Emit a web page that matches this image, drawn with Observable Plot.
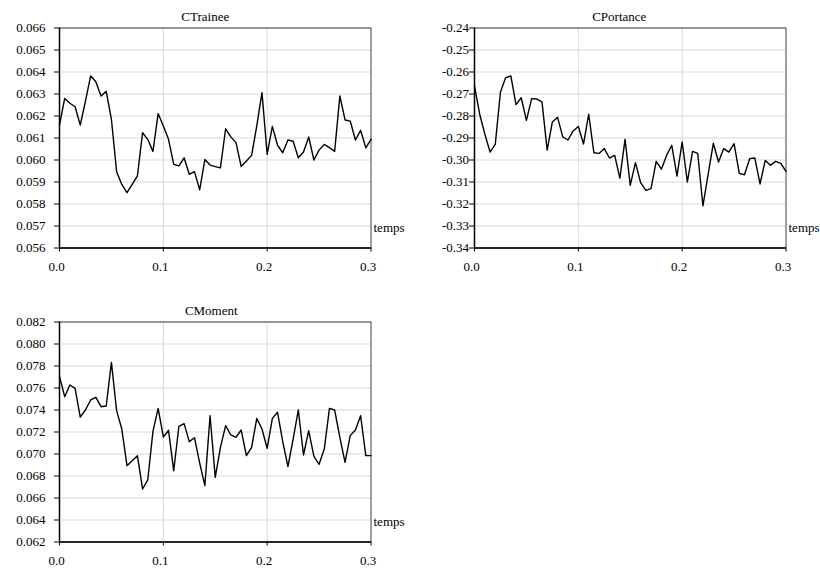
<!DOCTYPE html>
<html><head><meta charset="utf-8">
<script src="https://cdn.jsdelivr.net/npm/d3@7"></script>
<script src="https://cdn.jsdelivr.net/npm/@observablehq/plot@0.6"></script>
<style>
body{margin:0;background:#fff;}
#c{position:relative;width:820px;height:568px;overflow:hidden;}
.p{position:absolute;}
</style>
</head><body><div id="c"></div>
<script>
const temps = [0,0.005,0.01,0.015,0.02,0.025,0.03,0.035,0.04,0.045,0.05,0.055,0.06,0.065,0.07,0.075,0.08,0.085,0.09,0.095,
0.1,0.105,0.11,0.115,0.12,0.125,0.13,0.135,0.14,0.145,0.15,0.155,0.16,0.165,0.17,0.175,0.18,0.185,0.19,0.195,
0.2,0.205,0.21,0.215,0.22,0.225,0.23,0.235,0.24,0.245,0.25,0.255,0.26,0.265,0.27,0.275,0.28,0.285,0.29,0.295,0.3];

const cTrainee = [0.06158,0.06280,0.06258,0.06242,0.06159,0.06268,0.06382,0.06356,0.06291,0.06312,0.06185,0.05947,0.05889,0.05852,0.05889,0.05927,0.06124,0.06094,0.06039,0.06211,
0.06155,0.06094,0.05980,0.05973,0.06010,0.05935,0.05947,0.05864,0.06002,0.05977,0.05970,0.05964,0.06142,0.06105,0.06079,0.05970,0.05995,0.06021,0.06155,0.06306,
0.06026,0.06153,0.06067,0.06033,0.06091,0.06085,0.06010,0.06036,0.06105,0.06000,0.06045,0.06071,0.06056,0.06039,0.06291,0.06182,0.06177,0.06091,0.06135,0.06055,0.06094];

const cPortance = [-0.2664,-0.2792,-0.2883,-0.2964,-0.2929,-0.2691,-0.2626,-0.2618,-0.2748,-0.2717,-0.2820,-0.2721,-0.2723,-0.2736,-0.2955,-0.2827,-0.2806,-0.2895,-0.2909,-0.2868,
-0.2848,-0.2927,-0.2792,-0.2967,-0.2970,-0.2948,-0.2991,-0.2979,-0.3082,-0.2906,-0.3115,-0.3012,-0.3103,-0.3138,-0.3130,-0.3006,-0.3042,-0.2979,-0.2933,-0.3073,
-0.2918,-0.3100,-0.2961,-0.2970,-0.3209,-0.3065,-0.2924,-0.3009,-0.2948,-0.2964,-0.2926,-0.3061,-0.3067,-0.2994,-0.2991,-0.3109,-0.3002,-0.3024,-0.3006,-0.3015,-0.3052];

const cMoment = [0.07706,0.07521,0.07627,0.07597,0.07336,0.07400,0.07491,0.07515,0.07430,0.07436,0.07833,0.07394,0.07227,0.06894,0.06939,0.06985,0.06682,0.06764,0.07206,0.07415,
0.07155,0.07215,0.06848,0.07252,0.07276,0.07112,0.07148,0.06918,0.06712,0.07348,0.06788,0.07060,0.07258,0.07173,0.07152,0.07218,0.06985,0.07060,0.07324,0.07227,
0.07052,0.07324,0.07379,0.07112,0.06885,0.07136,0.07400,0.06991,0.07212,0.06979,0.06906,0.07045,0.07415,0.07400,0.07152,0.06924,0.07167,0.07218,0.07348,0.06985,0.06985];

const xTicks = [0, 0.1, 0.2, 0.3];
const trainTicks = [0.056,0.057,0.058,0.059,0.060,0.061,0.062,0.063,0.064,0.065,0.066];
const portTicks = [-0.34,-0.33,-0.32,-0.31,-0.30,-0.29,-0.28,-0.27,-0.26,-0.25,-0.24];
const momentTicks = [0.062,0.064,0.066,0.068,0.070,0.072,0.074,0.076,0.078,0.080,0.082];
const titles = ["CTrainee", "CPortance", "CMoment"];
const xLabel = "temps";
const FONT = "Liberation Serif";

function panel(title, values, yTicks, yFmt, opts) {
  const yDomain = [yTicks[0], yTicks[yTicks.length - 1]];
  const svg = Plot.plot({
    width: 420, height: 280,
    marginLeft: 59, marginRight: 49.5, marginTop: 27.5, marginBottom: 32.5,
    style: {fontFamily: FONT, fontSize: "13px", background: "transparent", color: "#000", overflow: "visible"},
    x: {domain: [0, 0.3], axis: null},
    y: {domain: yDomain, axis: null},
    marks: [
      Plot.gridY(yTicks, {stroke: "#d9d9d9", strokeOpacity: 1}),
      Plot.gridX([0.1, 0.2], {stroke: "#d9d9d9", strokeOpacity: 1}),
      Plot.frame({stroke: "#404040"}),
      Plot.line(values, {x: temps, y: values, stroke: "#000", strokeWidth: 1.4}),
      Plot.ruleX([0], {stroke: "#000", strokeWidth: 1.5}),
      Plot.ruleY([yDomain[0]], {stroke: "#000", strokeWidth: 1.5}),
      Plot.axisY(yTicks, {tickSize: 5, tickPadding: opts.yPad, tickFormat: yFmt, fill: "#000"}),
      Plot.axisX(xTicks, {tickSize: 4, tickFormat: () => ""}),
      Plot.axisX(xTicks, {tickSize: 0, tickPadding: 14, dx: -3, tickFormat: d => d.toFixed(1), fill: "#000"}),
      Plot.text([title], {frameAnchor: "top", dy: -16.5, dx: opts.titleDx, fontSize: 13, fill: "#000"}),
      Plot.text([xLabel], {frameAnchor: "bottom-right", textAnchor: "start", dx: 2.5, dy: -16.5, fontSize: 13, fill: "#000"})
    ]
  });
  svg.setAttribute("font-family", FONT);
  svg.querySelectorAll("[font-variant]").forEach(e => e.removeAttribute("font-variant"));
  svg.querySelectorAll("g,text").forEach(t => {
    t.setAttribute("font-family", FONT);
    t.style.fontFamily = FONT;
    t.style.fontVariant = "normal";
    t.style.fontVariantNumeric = "normal";
  });
  return svg;
}

const c = document.getElementById("c");
function place(el, left, top) {
  el.classList.add("p");
  el.style.left = left + "px";
  el.style.top = top + "px";
  c.appendChild(el);
}
place(panel(titles[0], cTrainee, trainTicks, d => d.toFixed(3), {yPad: 9, titleDx: -10}), 0, 0);
place(panel(titles[1], cPortance, portTicks, d => d.toFixed(2), {yPad: 0.5, titleDx: -11}), 415, 0);
place(panel(titles[2], cMoment, momentTicks, d => d.toFixed(3), {yPad: 9, titleDx: -4}), 0, 294);
</script>
</body></html>
